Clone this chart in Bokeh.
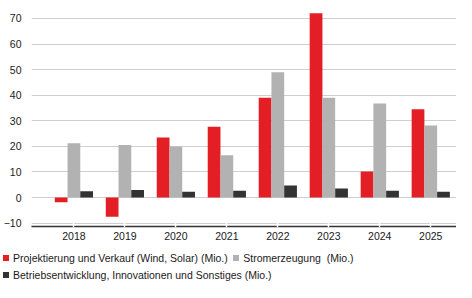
from bokeh.plotting import figure
from bokeh.layouts import column
from bokeh.models import FixedTicker, ColumnDataSource, Range1d, Div
from bokeh.transform import dodge
from bokeh.embed import file_html
from bokeh.resources import INLINE

years = ["2018", "2019", "2020", "2021", "2022", "2023", "2024", "2025"]
projektierung = [-1.8, -7.5, 23.5, 27.7, 39.0, 72.0, 10.2, 34.5]
stromerzeugung = [21.2, 20.5, 20.0, 16.5, 49.0, 39.0, 36.8, 28.2]
betrieb = [2.5, 3.0, 2.3, 2.7, 4.7, 3.5, 2.7, 2.3]
series_labels = [
    "Projektierung und Verkauf (Wind, Solar) (Mio.)",
    "Stromerzeugung  (Mio.)",
    "Betriebsentwicklung, Innovationen und Sonstiges (Mio.)",
]
series_colors = ["#E31E24", "#B2B2B2", "#333333"]
y_ticks = [-10, 0, 10, 20, 30, 40, 50, 60, 70]

FONT = "Liberation Sans"
FS = "10.5px"
TXT = "#1a1a1a"

source = ColumnDataSource(dict(
    x=list(range(len(years))),
    p=projektierung,
    s=stromerzeugung,
    b=betrieb,
))

p = figure(
    width=456, height=250,
    x_range=Range1d(-0.832, 7.505),
    y_range=Range1d(-11.3, 77.0),
    output_backend="svg", toolbar_location=None,
    min_border_left=25, min_border_right=0, min_border_top=0, min_border_bottom=24,
    outline_line_color=None, margin=0,
)

bw = 0.25
p.vbar(x=dodge("x", -bw, range=p.x_range), top="p", bottom=0, width=bw,
       source=source, fill_color=series_colors[0], line_color=None)
p.vbar(x=dodge("x", 0, range=p.x_range), top="s", bottom=0, width=bw,
       source=source, fill_color=series_colors[1], line_color=None)
p.vbar(x=dodge("x", bw, range=p.x_range), top="b", bottom=0, width=bw,
       source=source, fill_color=series_colors[2], line_color=None)

# x axis
p.xaxis.ticker = FixedTicker(ticks=list(range(len(years))))
p.xaxis.major_label_overrides = {i: y for i, y in enumerate(years)}
p.xaxis.axis_line_color = "#333333"
p.xaxis.axis_line_width = 1.5
p.xaxis.major_tick_line_color = "white"
p.xaxis.major_tick_line_width = 1.5
p.xaxis.major_tick_in = 4
p.xaxis.major_tick_out = 1
p.xaxis.minor_tick_line_color = None
p.xaxis.major_label_standoff = 4
p.xaxis.major_label_text_font = FONT
p.xaxis.major_label_text_font_size = FS
p.xaxis.major_label_text_color = TXT

# y axis
p.yaxis.ticker = FixedTicker(ticks=y_ticks)
p.yaxis.axis_line_color = None
p.yaxis.major_tick_line_color = None
p.yaxis.minor_tick_line_color = None
p.yaxis.major_label_standoff = 4
p.yaxis.major_label_text_font = FONT
p.yaxis.major_label_text_font_size = FS
p.yaxis.major_label_text_color = TXT

p.xgrid.visible = False
p.ygrid.ticker = FixedTicker(ticks=y_ticks)
p.ygrid.grid_line_color = "#cfcfcf"
p.ygrid.grid_line_width = 1

# legend (HTML, below the chart)
def legend_item(color, label, gap_after=0):
    sw = (f'<span style="display:inline-block;width:6px;height:6px;background:{color};'
          f'margin-right:4.5px;vertical-align:1px;"></span>')
    return (f'<span style="white-space:pre;margin-right:{gap_after}px;">{sw}{label}</span>')

row_style = ("position:absolute;left:2.5px;white-space:nowrap;line-height:12px;"
             f"font-family:'{FONT}',Arial,sans-serif;font-size:{FS};color:{TXT};")
row1 = legend_item(series_colors[0], series_labels[0], 5) + legend_item(series_colors[1], series_labels[1])
row2 = legend_item(series_colors[2], series_labels[2])
html = (f'<div style="position:relative;width:456px;height:32px;">'
        f'<div style="{row_style}top:1.7px;">{row1}</div>'
        f'<div style="{row_style}top:19.4px;">{row2}</div>'
        f'</div>')
legend_div = Div(text=html, width=456, height=32, margin=0)

layout = column(p, legend_div, spacing=0)
open("out.html", "w").write(file_html(layout, INLINE))
